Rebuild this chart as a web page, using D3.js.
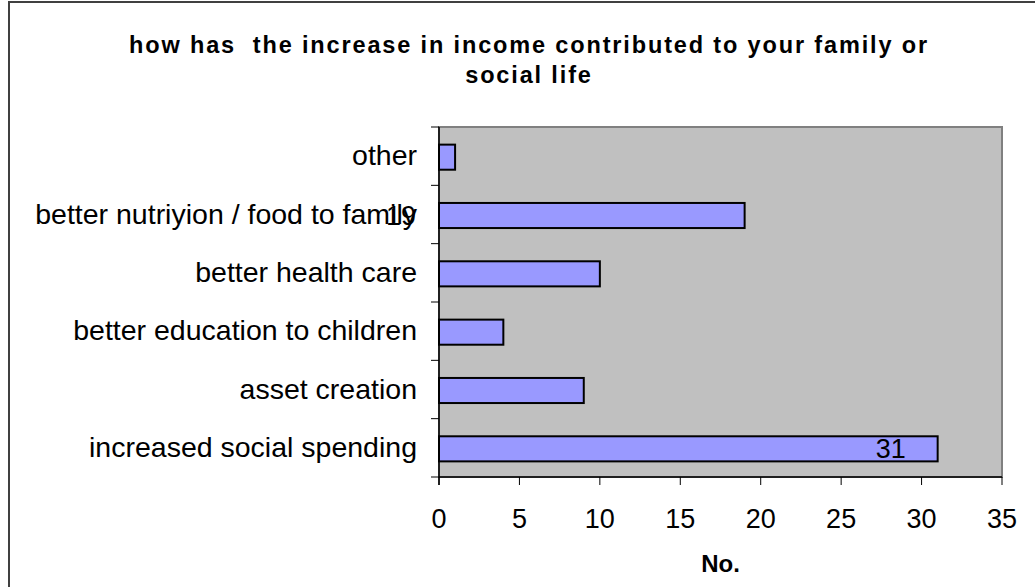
<!DOCTYPE html>
<html><head><meta charset="utf-8">
<script src="https://cdn.jsdelivr.net/npm/d3@7"></script>
<style>body{margin:0;background:#fff}svg{display:block}text{font-family:"Liberation Sans",Arial,sans-serif}</style>
</head><body><svg id="c" width="1035" height="587"></svg>
<script>
const categories = ["other","better nutriyion / food to family","better health care","better education to children","asset creation","increased social spending"];
const values = [1,19,10,4,9,31];
const xTicks = [0,5,10,15,20,25,30,35];
const dataLabels = [{cat:"better nutriyion / food to family", text:"19"},{cat:"increased social spending", text:"31"}];
const titleLines = ["how has  the increase in income contributed to your family or","social life"];
const xTitle = "No.";

const svg = d3.select("#c");
const m = {left:439, right:1002, top:127, bottom:477};

// outer frame
svg.append("rect").attr("x",9).attr("y",2).attr("width",1100).attr("height",700)
  .attr("fill","#fff").attr("stroke","#404040").attr("stroke-width",2);

const x = d3.scaleLinear().domain([0,35]).range([m.left,m.right]);
const y = d3.scaleBand().domain(categories).range([m.top,m.bottom]).padding(0);

// plot area
svg.append("rect").attr("x",m.left).attr("y",m.top).attr("width",m.right-m.left).attr("height",m.bottom-m.top)
  .attr("fill","#c0c0c0").attr("stroke","#808080").attr("stroke-width",2);

// title
const tt = svg.append("g").selectAll("text").data(titleLines).join("text")
  .attr("x",529).attr("y",(d,i)=>53+i*30).attr("text-anchor","middle").attr("font-weight","bold")
  .attr("font-size",23.5).style("white-space","pre").text(d=>d);
const l0 = tt.nodes()[0].getComputedTextLength();
const ls = Math.max(0,(800 - l0)/titleLines[0].length);
tt.attr("letter-spacing",ls);

// bars
const bh = y.bandwidth()*0.43;
svg.append("g").selectAll("rect").data(values).join("rect")
  .attr("x",x(0)).attr("y",(d,i)=>y(categories[i])+y.bandwidth()/2-bh/2+1)
  .attr("width",d=>x(d)-x(0)).attr("height",bh)
  .attr("fill","#9999ff").attr("stroke","#000").attr("stroke-width",2);

// y axis
const yAxis = svg.append("g").attr("transform",`translate(${m.left},0)`);
yAxis.append("line").attr("x1",0).attr("x2",0).attr("y1",m.top).attr("y2",m.bottom+8).attr("stroke","#000").attr("stroke-width",1.5);
const bounds = categories.map(c=>y(c)).concat([m.bottom]);
yAxis.selectAll("line.t").data(bounds).join("line").attr("class","t")
  .attr("x1",-8).attr("x2",0).attr("y1",d=>d).attr("y2",d=>d).attr("stroke","#000").attr("stroke-width",1);
yAxis.selectAll("text").data(categories).join("text")
  .attr("x",-22).attr("y",d=>y(d)+y.bandwidth()/2+9)
  .attr("text-anchor","end").attr("font-size",28.5).attr("fill","#000").text(d=>d);

// x axis
const xAxis = svg.append("g").attr("transform",`translate(0,${m.bottom})`);
xAxis.append("line").attr("x1",m.left).attr("x2",m.right).attr("y1",0).attr("y2",0).attr("stroke","#000").attr("stroke-width",1.5);
xAxis.selectAll("line.t").data(xTicks).join("line").attr("class","t")
  .attr("x1",d=>x(d)).attr("x2",d=>x(d)).attr("y1",0).attr("y2",8).attr("stroke","#000");
xAxis.selectAll("text").data(xTicks).join("text")
  .attr("x",d=>x(d)).attr("y",51).attr("text-anchor","middle").attr("font-size",27).text(d=>d);

svg.append("text").attr("x",(m.left+m.right)/2).attr("y",572).attr("text-anchor","middle").attr("font-weight","bold")
  .attr("font-size",24).text(xTitle);

// data labels
const vmap = Object.fromEntries(categories.map((c,i)=>[c,values[i]]));
svg.selectAll("text.dl").data(dataLabels).join("text").attr("class","dl")
  .attr("x",d=> d.text==="19" ? x(0)-38 : x(vmap[d.cat])-47)
  .attr("y",d=>y(d.cat)+y.bandwidth()/2+10)
  .attr("text-anchor","middle").attr("font-size",27).text(d=>d.text);
</script></body></html>
